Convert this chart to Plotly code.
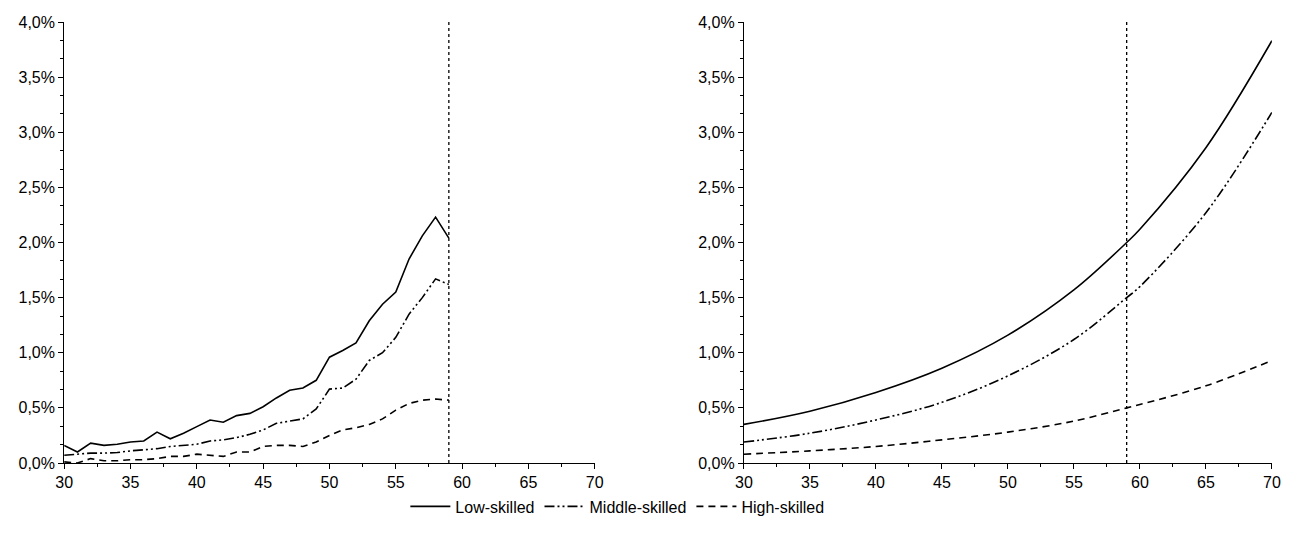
import plotly.graph_objects as go

ages_obs = list(range(30, 60))
low_obs = [0.16, 0.10, 0.18, 0.16, 0.17, 0.19, 0.20, 0.28, 0.22, 0.27, 0.33, 0.39, 0.37, 0.43, 0.45,
           0.51, 0.59, 0.66, 0.68, 0.75, 0.96, 1.02, 1.09, 1.29, 1.44, 1.55, 1.85, 2.06, 2.23, 2.04]
mid_obs = [0.07, 0.08, 0.09, 0.09, 0.095, 0.11, 0.12, 0.13, 0.15, 0.16, 0.17, 0.20, 0.21, 0.23, 0.26,
           0.30, 0.36, 0.38, 0.40, 0.49, 0.67, 0.68, 0.76, 0.93, 1.00, 1.14, 1.35, 1.50, 1.67, 1.62]
high_obs = [0.01, 0.0, 0.04, 0.02, 0.02, 0.03, 0.03, 0.04, 0.06, 0.06, 0.08, 0.07, 0.06, 0.10, 0.10,
            0.15, 0.16, 0.16, 0.15, 0.19, 0.25, 0.30, 0.32, 0.35, 0.40, 0.48, 0.54, 0.57, 0.58, 0.57]

ages_fit = [30, 35, 40, 45, 50, 55, 59, 60, 65, 70]
low_fit = [0.35, 0.47, 0.64, 0.86, 1.16, 1.57, 2.00, 2.12, 2.86, 3.83]
mid_fit = [0.19, 0.27, 0.39, 0.55, 0.79, 1.12, 1.50, 1.60, 2.27, 3.18]
high_fit = [0.08, 0.11, 0.15, 0.21, 0.28, 0.38, 0.50, 0.53, 0.70, 0.93]

names = ["Low-skilled", "Middle-skilled", "High-skilled"]
dashes = ["solid", "10px,3px,2px,3px,2px,3px", "7px,5px"]
cutoff = 59

fig = go.Figure()
for i, (obs, fit) in enumerate([(low_obs, low_fit), (mid_obs, mid_fit), (high_obs, high_fit)]):
    fig.add_trace(go.Scatter(x=ages_obs, y=[v / 100 for v in obs], mode="lines", name=names[i],
                             line=dict(color="black", width=1.6, dash=dashes[i]), xaxis="x", yaxis="y"))
    fig.add_trace(go.Scatter(x=ages_fit, y=[v / 100 for v in fit], mode="lines", showlegend=False,
                             line=dict(color="black", width=1.6, dash=dashes[i], shape="spline"),
                             xaxis="x2", yaxis="y2"))

for xr in ["x", "x2"]:
    fig.add_shape(type="line", xref=xr, yref="paper", x0=cutoff, x1=cutoff, y0=0, y1=1,
                  line=dict(color="black", width=1.3, dash="dot"))

ax = dict(range=[30, 70], dtick=5, showgrid=False, zeroline=False, showline=True, linecolor="black",
          ticks="outside", ticklen=5, tickcolor="black", automargin=False,
          minor=dict(ticks="outside", dtick=2.5, ticklen=3, tickcolor="black"))
ay = dict(range=[0, 0.04], dtick=0.005, tickformat=".1%", showgrid=False, zeroline=False, showline=True,
          linecolor="black", ticks="outside", ticklen=5, tickcolor="black", automargin=False,
          minor=dict(ticks="outside", dtick=0.005 / 3, ticklen=3, tickcolor="black"))

fig.update_layout(
    width=1291, height=541, plot_bgcolor="white", paper_bgcolor="white",
    separators=",.",
    font=dict(family="Liberation Sans, Arial", size=16, color="black"),
    margin=dict(l=0, r=0, t=14, b=86),
    xaxis=dict(ax, domain=[0.0435, 0.4545], anchor="y"),
    yaxis=dict(ay, anchor="x"),
    xaxis2=dict(ax, domain=[0.570, 0.979], anchor="y2"),
    yaxis2=dict(ay, anchor="x2"),
    legend=dict(orientation="h", x=0.472, xanchor="center", y=-0.06, yanchor="top",
                font=dict(size=16), itemwidth=40, bgcolor="rgba(0,0,0,0)"),
)

fig.write_html("out.html")
